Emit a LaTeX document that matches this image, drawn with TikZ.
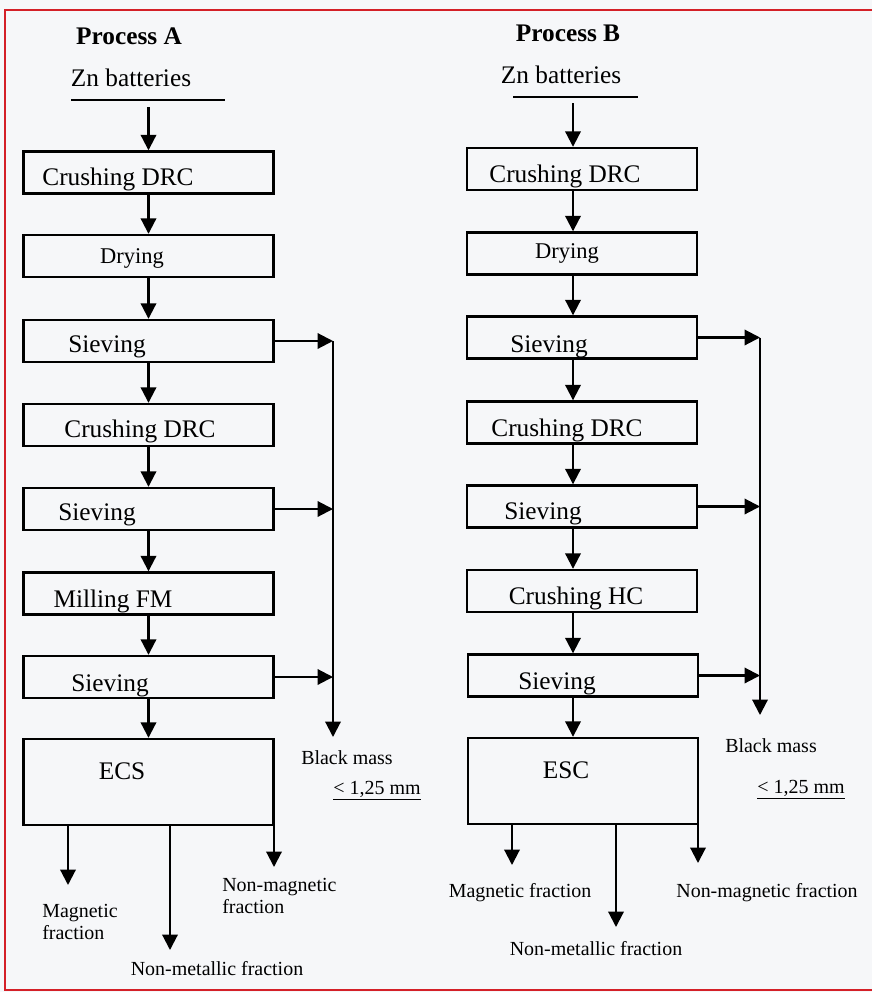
\documentclass[tikz,border=0pt]{standalone}
\usepackage{fontspec}
\setmainfont{Liberation Serif}
\usepackage{xcolor}
\usetikzlibrary{arrows.meta,positioning}

\definecolor{paper}{RGB}{246,247,249}
\definecolor{frame}{RGB}{212,32,40}

\begin{document}
\begin{tikzpicture}[
    x=0.025cm, y=-0.025cm,
    box/.style={draw, line width=1.7pt, minimum height=1.05cm, inner sep=0pt},
    boxA/.style={box, minimum width=6.25cm},
    boxB/.style={box, minimum width=5.75cm},
    txt/.style={font=\fontsize{18}{21}\selectfont, inner sep=0pt, anchor=base},
    dry/.style={font=\fontsize{16}{19}\selectfont, inner sep=0pt, anchor=base},
    head/.style={font=\fontsize{18}{21}\selectfont\bfseries, inner sep=0pt, anchor=base},
    sml/.style={font=\fontsize{14.2}{15.8}\selectfont, inner sep=0pt, align=left},
    arr/.style={-{Triangle[length=11pt,width=11pt]}, line width=1.5pt},
    ln/.style={line width=1.5pt}
]
\useasboundingbox (0,0) rectangle (872,992);
\fill[paper] (0,0) rectangle (872,992);
\draw[frame, line width=2pt] (872,10) -- (5,10) -- (5,990) -- (872,990);

% Process A
\node[head] (hA) at (129,45) {Process A};
\node[txt] (zA) at (131,87) {Zn batteries};
\draw[ln] (71,100) -- (225,100);
\coordinate (zAo) at (148.5,107);

\node[boxA] (a1) at (148.5,172.5) {};
\node[boxA] (a2) at (148.5,256) {};
\node[boxA] (a3) at (148.5,341) {};
\node[boxA] (a4) at (148.5,425) {};
\node[boxA] (a5) at (148.5,509) {};
\node[boxA] (a6) at (148.5,593.5) {};
\node[boxA] (a7) at (148.5,677) {};
\node[boxA, minimum height=2.15cm] (a8) at (148.5,782) {};

\node[txt] (a1t) at (118,185) {Crushing DRC};
\node[dry] (a2t) at (132,263) {Drying};
\node[txt] (a3t) at (107,352) {Sieving};
\node[txt] (a4t) at (140,437) {Crushing DRC};
\node[txt] (a5t) at (97,520) {Sieving};
\node[txt] (a6t) at (113,607) {Milling FM};
\node[txt] (a7t) at (110,691) {Sieving};
\node[txt] (a8t) at (122,779) {ECS};

\draw[arr] (zAo) -- (a1.north);
\foreach \i/\j in {1/2,2/3,3/4,4/5,5/6,6/7,7/8}
  \draw[arr] (a\i.south) -- (a\j.north);

\coordinate (vA) at (333,737);
\draw[arr] (a3.east -| vA) -- (vA);
\foreach \i in {3,5,7}
  \draw[arr] (a\i.east) -- (a\i.east -| vA);

\coordinate (mA) at (68,885);
\coordinate (xA) at (170,950);
\coordinate (nA) at (274,867);
\draw[arr] (a8.south -| mA) -- (mA);
\draw[arr] (a8.south -| xA) -- (xA);
\draw[arr] (a8.south -| nA) -- (nA);

\node[sml, anchor=north west] (mAt) at (42,904) {Magnetic\\fraction};
\node[sml, anchor=base] (xAt) at (217,975) {Non-metallic fraction};
\node[sml, anchor=north west] (nAt) at (222,878) {Non-magnetic\\fraction};
\node[sml, anchor=base] (bA) at (347,764) {Black mass};
\node[sml, anchor=base] (sA) at (377,794) {\underline{< 1,25 mm}};

% Process B
\node[head] (hB) at (568,42) {Process B};
\node[txt] (zB) at (561,83) {Zn batteries};
\draw[ln] (513,97) -- (638,97);
\coordinate (zBo) at (573,103);
\coordinate (colB) at (573,0);

\node[boxB] (b1) at (582,169) {};
\node[boxB] (b2) at (582,253.5) {};
\node[boxB] (b3) at (582,337.5) {};
\node[boxB] (b4) at (582,422.5) {};
\node[boxB] (b5) at (582,506.5) {};
\node[boxB] (b6) at (582,591) {};
\node[boxB] (b7) at (583,675.5) {};
\node[boxB, minimum height=2.15cm] (b8) at (583,781) {};

\node[txt] (b1t) at (565,182) {Crushing DRC};
\node[dry] (b2t) at (567,258) {Drying};
\node[txt] (b3t) at (549,352) {Sieving};
\node[txt] (b4t) at (567,436) {Crushing DRC};
\node[txt] (b5t) at (543,519) {Sieving};
\node[txt] (b6t) at (576,604) {Crushing HC};
\node[txt] (b7t) at (557,689) {Sieving};
\node[txt] (b8t) at (566,778) {ESC};

\draw[arr] (zBo) -- (b1.north -| colB);
\foreach \i/\j in {1/2,2/3,3/4,4/5,5/6,6/7,7/8}
  \draw[arr] (b\i.south -| colB) -- (b\j.north -| colB);

\coordinate (vB) at (760,715);
\draw[arr] (b3.east -| vB) -- (vB);
\foreach \i in {3,5,7}
  \draw[arr] (b\i.east) -- (b\i.east -| vB);

\coordinate (mB) at (512,865);
\coordinate (xB) at (616,927);
\coordinate (nB) at (698,863);
\draw[arr] (b8.south -| mB) -- (mB);
\draw[arr] (b8.south -| xB) -- (xB);
\draw[arr] (b8.south -| nB) -- (nB);

\node[sml, anchor=base] (mBt) at (520,897) {Magnetic fraction};
\node[sml, anchor=base] (xBt) at (596,955) {Non-metallic fraction};
\node[sml, anchor=base] (nBt) at (767,897) {Non-magnetic fraction};
\node[sml, anchor=base] (bB) at (771,752) {Black mass};
\node[sml, anchor=base] (sB) at (801,793) {\underline{< 1,25 mm}};
\end{tikzpicture}
\end{document}
